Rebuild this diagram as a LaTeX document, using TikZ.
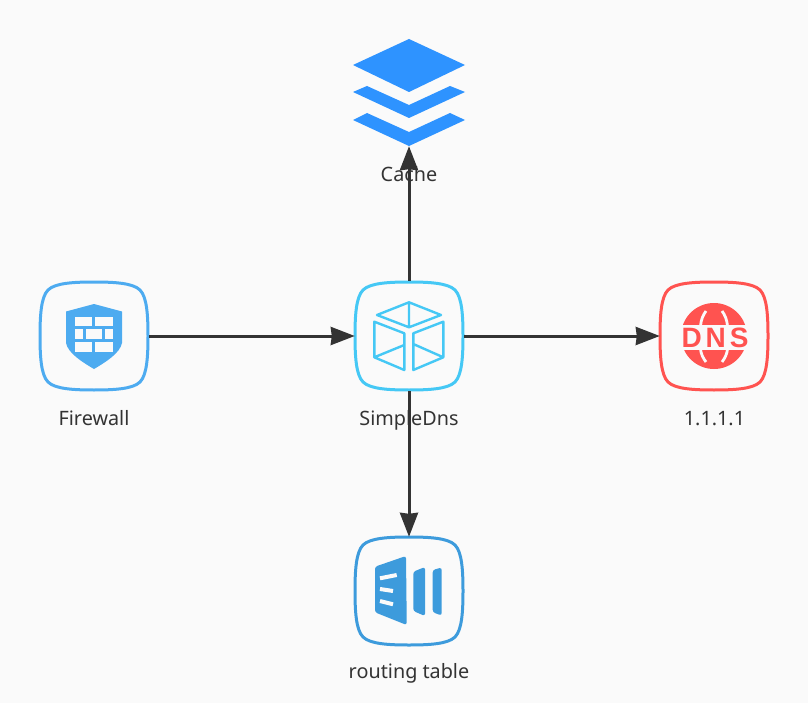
\documentclass[tikz,border=0pt]{standalone}
\usepackage{fontspec}
\usepackage{xcolor}
\usetikzlibrary{arrows.meta}
\setmainfont{Noto Sans}
\newfontfamily\dnsfont[LetterSpace=14]{Liberation Sans}
\definecolor{page-bg}{HTML}{FAFAFA}
\definecolor{wall-blue}{HTML}{4DABF0}
\definecolor{dns-cyan}{HTML}{45C8F5}
\definecolor{dns-red}{HTML}{FF5350}
\definecolor{table-blue}{HTML}{3D9BDC}
\definecolor{cache-blue}{HTML}{2E93FF}
\definecolor{ink}{HTML}{333333}
\tikzset{
    icon-box/.style = {rectangle, minimum size=110pt, inner sep=0pt},
    icon-label/.style = {text=ink, font=\fontsize{19.8}{22}\selectfont, inner sep=0pt, anchor=base},
    link/.style = {draw=ink, line width=3pt, -{Stealth[length=24pt,width=18pt,inset=1pt]}, shorten >=-1pt},
}
% rounded frame round a node
\newcommand{\iconframe}[2]{
    \draw[#2, line width=3pt, shift={(#1.center)}]
        (0,-54) .. controls (20,-54) and (39,-53) .. (46,-46)
        .. controls (53,-39) and (54,-20) .. (54,0)
        .. controls (54,20) and (53,39) .. (46,46)
        .. controls (39,53) and (20,54) .. (0,54)
        .. controls (-20,54) and (-39,53) .. (-46,46)
        .. controls (-53,39) and (-54,20) .. (-54,0)
        .. controls (-54,-20) and (-53,-39) .. (-46,-46)
        .. controls (-39,-53) and (-20,-54) .. cycle;
}
\begin{document}
\begin{tikzpicture}[x=1pt, y=-1pt]
\fill[page-bg] (0,0) rectangle (808,703);
\useasboundingbox (0,0) rectangle (808,703);

\node[icon-box] (firewall) at (94,336) {};
\node[icon-box] (simpledns) at (409,336) {};
\node[icon-box] (resolver) at (714,336) {};
\node[icon-box] (routing) at (409,591) {};
\node[rectangle, minimum width=112pt, minimum height=108pt, inner sep=0pt] (cache) at (409,93) {};

\iconframe{firewall}{wall-blue}
\iconframe{simpledns}{dns-cyan}
\iconframe{resolver}{dns-red}
\iconframe{routing}{table-blue}

% shield
\begin{scope}[shift={(firewall.center)}]
\fill[wall-blue] (0,-32) -- (-28,-24.5) -- (-28,7) .. controls (-26,17) and (-12,26) .. (0,33)
    .. controls (12,26) and (26,17) .. (28,7) -- (28,-24.5) -- cycle;
\foreach \bx/\by/\bw in {-19/-19.3/17.3, 1/-19.3/17.7, -19/-6.7/7.7, -8/-6.7/16.3, 11/-6.7/7.7, -19/6/17.3, 1/6/17.7}
    \fill[page-bg] (\bx,\by) rectangle ++(\bw,9.7);
\end{scope}

% cube
\begin{scope}[shift={(simpledns.center)}, dns-cyan, line width=2.4pt, line join=round]
\draw (0,-33.7) -- (32,-21) -- (0,-8.7) -- (-32,-21) -- cycle (0,-33.7) -- (0,-8.7);
\draw (-34.7,-14.3) -- (-4.7,-2.7) -- (-4.7,34) -- (-34.7,21.3) -- cycle (-34.7,21.3) -- (-4.7,9);
\draw (34.3,-14.3) -- (4.3,-2.7) -- (4.3,34) -- (34.3,21.3) -- cycle (34.3,21.3) -- (4.3,8);
\end{scope}

% globe
\begin{scope}[shift={(resolver.center)}]
\fill[dns-red] (0,0) circle (33);
\fill[page-bg] (-36,-10.7) rectangle (36,14);
\draw[page-bg, line width=2.8pt] (-8,-25) .. controls (-11,-21) and (-13,-16) .. (-13.5,-10);
\draw[page-bg, line width=2.8pt] (8,-25) .. controls (11,-21) and (13,-16) .. (13.5,-10);
\draw[page-bg, line width=2.8pt] (-8,26) .. controls (-11,22) and (-13,18) .. (-13.5,13);
\draw[page-bg, line width=2.8pt] (8,26) .. controls (11,22) and (13,18) .. (13.5,13);
\end{scope}
\node[text=dns-red, font=\dnsfont\bfseries\fontsize{28}{28}\selectfont, inner sep=0pt, xshift=1pt, yshift=-2pt] (resolver-glyph) at (resolver.center) {DNS};

% table
\begin{scope}[shift={(routing.center)}, table-blue]
\fill[rounded corners=2.5pt] (-34,-24.3) -- (-3,-35) -- (-2.3,29) -- (-2.3,34) -- (-34,21.3) -- cycle;
\fill[rounded corners=2.5pt] (4.3,-19.3) -- (16,-24) -- (16,25) -- (4.3,20) -- cycle;
\fill[rounded corners=2.5pt] (23.7,-21) -- (32.7,-23.5) -- (32.7,24.5) -- (23.7,21.3) -- cycle;
\draw[page-bg, line width=4pt] (-29,-12.7) -- (-12.3,-16) (-29,-2) -- (-16,0) (-29,10) -- (-16,13.3);
\end{scope}

% layers
\begin{scope}[shift={(cache.center)}, cache-blue]
\fill (0,-54) -- (56,-28) -- (0,-1) -- (-56,-28) -- cycle;
\fill (-56,-1) -- (-42,-7) -- (0,12) -- (41,-7) -- (56,-1) -- (0,25) -- cycle;
\fill (-56,27) -- (-42,20) -- (0,39) -- (41,20) -- (56,27) -- (0,53) -- cycle;
\end{scope}

\draw[link] (firewall) -- (simpledns);
\draw[link] (simpledns) -- (resolver);
\draw[link] (simpledns) -- (routing);
\draw[link] (simpledns) -- (cache);

\node[icon-label] (firewall-label) at (94,425) {Firewall};
\node[icon-label] (simpledns-label) at (409,425) {SimpleDns};
\node[icon-label] (resolver-label) at (714.5,425) {1.1.1.1};
\node[icon-label] (routing-label) at (409,678) {routing table};
\node[icon-label] (cache-label) at (409,182) {Cache};
\end{tikzpicture}
\end{document}
